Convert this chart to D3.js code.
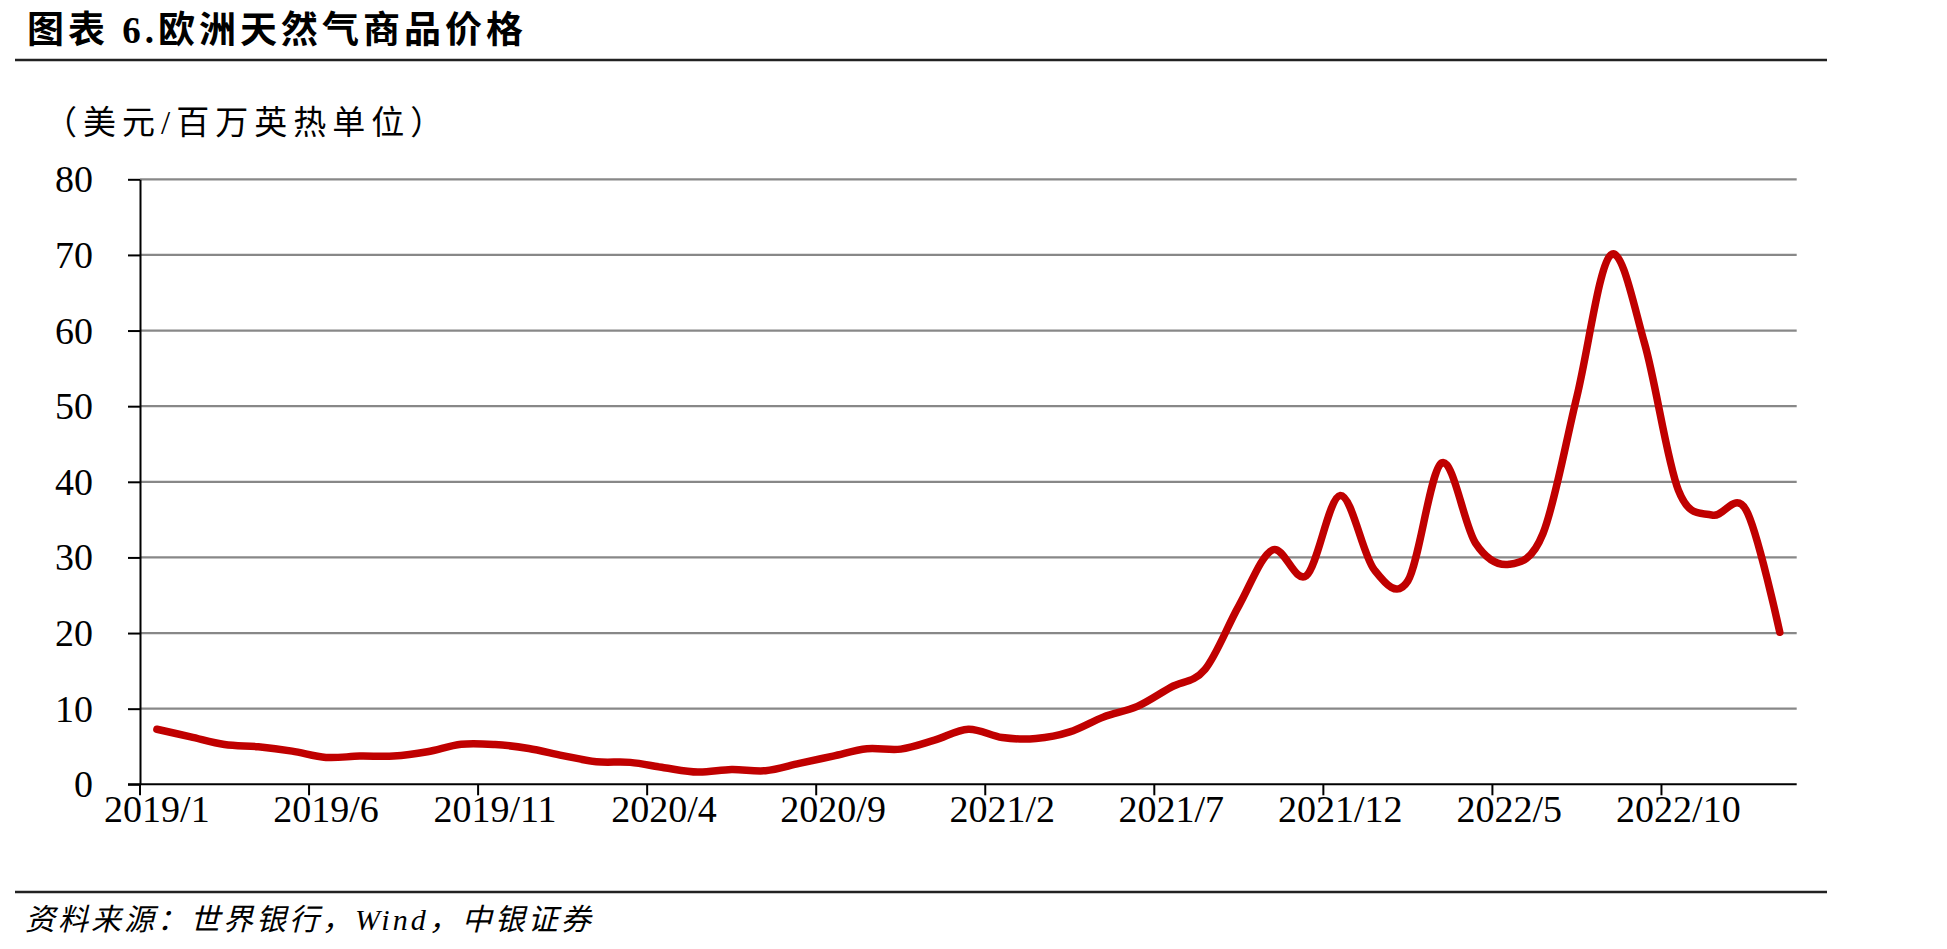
<!DOCTYPE html>
<html>
<head>
<meta charset="utf-8">
<script src="https://cdn.jsdelivr.net/npm/d3@7"></script>
<style>
  body { margin: 0; background: #fff; }
  svg { display: block; }
  .num text { font-family: "Liberation Serif", "Times New Roman", serif; }
</style>
</head>
<body>
<svg id="chart" width="1947" height="949"></svg>
<script>
// months, 2019/1 .. 2023/1
var months = [
  "2019/1", "2019/2", "2019/3", "2019/4", "2019/5", "2019/6", "2019/7", "2019/8", "2019/9", "2019/10", "2019/11", "2019/12",
  "2020/1", "2020/2", "2020/3", "2020/4", "2020/5", "2020/6", "2020/7", "2020/8", "2020/9", "2020/10", "2020/11", "2020/12",
  "2021/1", "2021/2", "2021/3", "2021/4", "2021/5", "2021/6", "2021/7", "2021/8", "2021/9", "2021/10", "2021/11", "2021/12",
  "2022/1", "2022/2", "2022/3", "2022/4", "2022/5", "2022/6", "2022/7", "2022/8", "2022/9", "2022/10", "2022/11", "2022/12",
  "2023/1"
];
// 欧洲天然气价格, 美元/百万英热单位
var gasPrice = [
  7.28, 6.27, 5.26, 4.96, 4.39, 3.55, 3.73, 3.73, 4.30, 5.30, 5.26, 4.74,
  3.80, 2.98, 2.90, 2.20, 1.62, 1.97, 1.80, 2.76, 3.73, 4.70, 4.65, 5.83,
  7.28, 6.18, 6.05, 6.93, 8.90, 10.30, 12.85, 15.2, 23.6, 31.0, 27.6, 38.2,
  28.4, 26.9, 42.5, 31.9, 29.1, 33.2, 51.3, 70.0, 58.3, 38.9, 35.6, 36.3,
  20.1
];
var xLabels = ["2019/1", "2019/6", "2019/11", "2020/4", "2020/9", "2021/2", "2021/7", "2021/12", "2022/5", "2022/10"];
var yTicks = [0, 10, 20, 30, 40, 50, 60, 70, 80];

var plotL = 140, plotR = 1796.7, plotT = 179.3, plotB = 784.3;

var svg = d3.select("#chart");
svg.append("rect").attr("width", 1947).attr("height", 949).attr("fill", "#fff");

var x = d3.scaleBand().domain(months).range([plotL, plotR]).padding(0);
var y = d3.scaleLinear().domain([0, 80]).range([plotB, plotT]);

// title
svg.append("text")
  .attr("x", 27).attr("y", 43)
  .attr("font-family", "'Liberation Serif', 'Noto Sans CJK SC', serif")
  .attr("font-weight", "bold")
  .attr("font-size", 37)
  .attr("letter-spacing", 4)
  .text("图表 6.欧洲天然气商品价格");

svg.append("line")
  .attr("x1", 15).attr("x2", 1827).attr("y1", 60).attr("y2", 60)
  .attr("stroke", "#222").attr("stroke-width", 2.5);

// unit
svg.append("text")
  .attr("x", 44).attr("y", 134)
  .attr("font-family", "'Liberation Serif', 'Noto Sans CJK SC', serif")
  .attr("font-size", 33)
  .attr("letter-spacing", 6)
  .text("（美元/百万英热单位）");

// gridlines
svg.append("g")
  .selectAll("line")
  .data(yTicks.filter(function (d) { return d > 0; }))
  .enter()
  .append("line")
  .attr("x1", plotL).attr("x2", plotR)
  .attr("y1", function (d) { return y(d); })
  .attr("y2", function (d) { return y(d); })
  .attr("stroke", "#888").attr("stroke-width", 2.2);

// y axis
var yAxis = svg.append("g")
  .attr("class", "num")
  .attr("transform", "translate(" + plotL + ",0)")
  .call(d3.axisLeft(y).tickValues(yTicks).tickSize(12).tickPadding(35).tickSizeOuter(0));
yAxis.select(".domain").attr("stroke", "#000").attr("stroke-width", 2);
yAxis.selectAll(".tick line").attr("stroke", "#000").attr("stroke-width", 2);
yAxis.selectAll(".tick text")
  .attr("font-size", 38).attr("fill", "#000").attr("dy", "0.33em");

// x axis
var xAxis = svg.append("g")
  .attr("class", "num")
  .attr("transform", "translate(0," + plotB + ")")
  .call(d3.axisBottom(x).tickValues(xLabels).tickSize(0).tickPadding(10).tickSizeOuter(0));
xAxis.select(".domain").remove();
xAxis.selectAll(".tick line").remove();
xAxis.selectAll(".tick text")
  .attr("font-size", 38).attr("fill", "#000").attr("dy", "0.71em").attr("y", 11);

svg.append("line")
  .attr("x1", plotL - 12).attr("x2", plotR)
  .attr("y1", plotB).attr("y2", plotB)
  .attr("stroke", "#000").attr("stroke-width", 2);

svg.append("g")
  .selectAll("line")
  .data(xLabels)
  .enter()
  .append("line")
  .attr("x1", function (d) { return x(d); })
  .attr("x2", function (d) { return x(d); })
  .attr("y1", plotB).attr("y2", plotB + 11)
  .attr("stroke", "#000").attr("stroke-width", 2);

// price line
var line = d3.line()
  .x(function (d, i) { return x(months[i]) + x.bandwidth() / 2; })
  .y(function (d) { return y(d); })
  .curve(d3.curveCatmullRom.alpha(0));

svg.append("path")
  .datum(gasPrice)
  .attr("d", line)
  .attr("fill", "none")
  .attr("stroke", "#C00000")
  .attr("stroke-width", 7.5)
  .attr("stroke-linecap", "round")
  .attr("stroke-linejoin", "round");

// source
svg.append("line")
  .attr("x1", 15).attr("x2", 1827).attr("y1", 892).attr("y2", 892)
  .attr("stroke", "#222").attr("stroke-width", 2.5);

svg.append("text")
  .attr("x", 25).attr("y", 930)
  .attr("font-family", "'Liberation Serif', 'Noto Sans CJK SC', serif")
  .attr("font-style", "italic")
  .attr("font-size", 30)
  .attr("letter-spacing", 3)
  .text("资料来源：世界银行，Wind，中银证券");
</script>
</body>
</html>
